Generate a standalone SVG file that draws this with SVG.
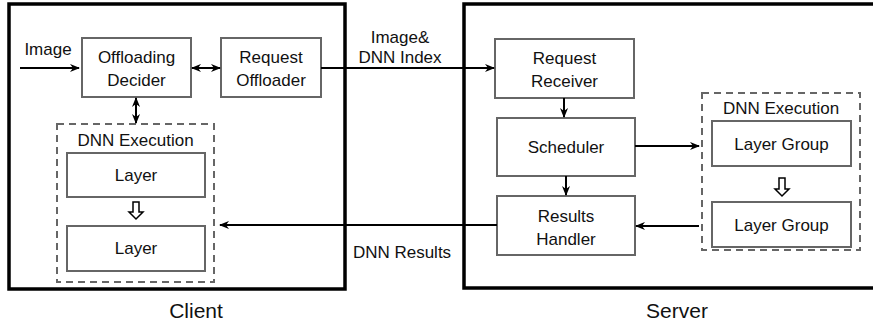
<svg xmlns="http://www.w3.org/2000/svg" width="873" height="324" viewBox="0 0 873 324">
<style>
text{font-family:"Liberation Sans",Arial,sans-serif;fill:#111;text-anchor:middle}
.t{font-size:17px}
.big{font-size:21px}
.frame{fill:none;stroke:#000;stroke-width:3.5}
.box{fill:#fff;stroke:#666;stroke-width:2}
.dash{fill:none;stroke:#666;stroke-width:2;stroke-dasharray:7,5}
.c{fill:none;stroke:#000;stroke-width:2}
.hollow{fill:#fff;stroke:#000;stroke-width:1.5}
</style>
<defs>
<marker id="ah" viewBox="0 0 10 10" refX="9" refY="5" markerWidth="10" markerHeight="9" orient="auto-start-reverse" markerUnits="userSpaceOnUse" preserveAspectRatio="none">
<path d="M0,0.5 L10,5 L0,9.5 L3,5 Z" fill="#000"/>
</marker>
</defs>
<rect x="0" y="0" width="873" height="324" fill="#fff"/>
<g id="client">
<rect class="frame" x="9" y="4" width="336" height="285"/>
<text class="big" x="196" y="318">Client</text>
</g>
<g id="server">
<rect class="frame" x="464" y="4" width="420" height="284"/>
<text class="big" x="677" y="318">Server</text>
</g>
<g id="offloading-decider">
<rect class="box" x="82" y="38" width="109" height="59"/>
<text class="t" x="136.5" y="63">Offloading</text>
<text class="t" x="136.5" y="86">Decider</text>
</g>
<g id="request-offloader">
<rect class="box" x="221" y="38" width="100" height="59"/>
<text class="t" x="271" y="63">Request</text>
<text class="t" x="271" y="86">Offloader</text>
</g>
<g id="client-dnn">
<rect class="dash" x="57" y="124" width="157" height="158"/>
<text class="t" x="135.5" y="146">DNN Execution</text>
</g>
<g id="client-layer1">
<rect class="box" x="67" y="153" width="138" height="44"/>
<text class="t" x="136" y="181">Layer</text>
</g>
<g id="client-layer2">
<rect class="box" x="67" y="226" width="138" height="45"/>
<text class="t" x="136" y="254">Layer</text>
</g>
<g id="request-receiver">
<rect class="box" x="495" y="39" width="139" height="59"/>
<text class="t" x="564.5" y="64">Request</text>
<text class="t" x="564.5" y="87">Receiver</text>
</g>
<g id="scheduler">
<rect class="box" x="497" y="118" width="138" height="58"/>
<text class="t" x="566" y="153">Scheduler</text>
</g>
<g id="results-handler">
<rect class="box" x="497" y="196" width="138" height="59"/>
<text class="t" x="566" y="222">Results</text>
<text class="t" x="566" y="245">Handler</text>
</g>
<g id="server-dnn">
<rect class="dash" x="702" y="93" width="158" height="157"/>
<text class="t" x="781" y="114">DNN Execution</text>
</g>
<g id="layer-group1">
<rect class="box" x="712" y="121" width="139" height="45"/>
<text class="t" x="781.5" y="150">Layer Group</text>
</g>
<g id="layer-group2">
<rect class="box" x="712" y="202" width="139" height="45"/>
<text class="t" x="781.5" y="231">Layer Group</text>
</g>
<g id="connectors">
<line class="c" x1="20" y1="68" x2="79" y2="68" marker-end="url(#ah)"/>
<text class="t" x="48" y="55">Image</text>
<line class="c" x1="192" y1="68" x2="220" y2="68" marker-start="url(#ah)" marker-end="url(#ah)"/>
<line class="c" x1="136" y1="98" x2="136" y2="123" marker-start="url(#ah)" marker-end="url(#ah)"/>
<line class="c" x1="321" y1="68" x2="494" y2="68" marker-end="url(#ah)"/>
<text class="t" x="400" y="43">Image&amp;</text>
<text class="t" x="400" y="63">DNN Index</text>
<line class="c" x1="564" y1="98" x2="564" y2="117" marker-end="url(#ah)"/>
<line class="c" x1="566" y1="176" x2="566" y2="195" marker-end="url(#ah)"/>
<line class="c" x1="635" y1="146" x2="699" y2="146" marker-end="url(#ah)"/>
<line class="c" x1="699" y1="226" x2="636" y2="226" marker-end="url(#ah)"/>
<line class="c" x1="497" y1="225" x2="220" y2="225" marker-end="url(#ah)"/>
<text class="t" x="402" y="258">DNN Results</text>
<path class="hollow" d="M133,202 h6 v10 h4 l-7,7 l-7,-7 h4 Z"/>
<path class="hollow" d="M779,178 h6 v11 h4 l-7,7 l-7,-7 h4 Z"/>
</g>
</svg>
